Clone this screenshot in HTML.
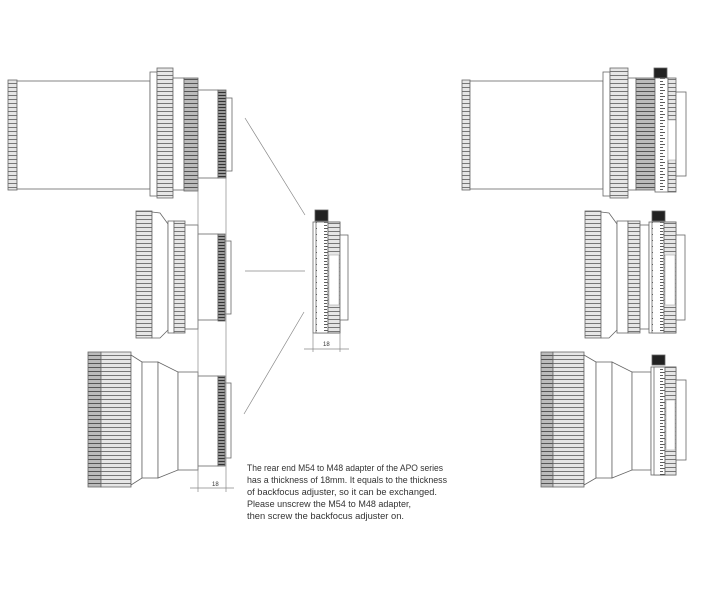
<!DOCTYPE html>
<html><head><meta charset="utf-8"><style>
html,body{margin:0;padding:0;background:#fff;width:720px;height:600px;overflow:hidden}
svg{display:block}
</style></head><body>
<svg width="720" height="600" viewBox="0 0 720 600" xmlns="http://www.w3.org/2000/svg">
<defs>
<pattern id="kn" width="8" height="4" patternUnits="userSpaceOnUse">
<rect width="8" height="4" fill="#e6e6e6"/><rect y="3" width="8" height="1" fill="#777"/>
</pattern>
<pattern id="kd" width="8" height="3" patternUnits="userSpaceOnUse">
<rect width="8" height="3" fill="#999"/><rect y="2" width="8" height="1" fill="#333"/>
</pattern>
<pattern id="km" width="8" height="4" patternUnits="userSpaceOnUse">
<rect width="8" height="4" fill="#bbb"/><rect y="3" width="8" height="1" fill="#555"/>
</pattern>
<pattern id="sc" width="12" height="6" patternUnits="userSpaceOnUse">
<rect width="12" height="6" fill="#fff"/><rect y="0" width="5" height="0.8" fill="#333"/><rect y="3" width="3" height="0.8" fill="#333"/>
</pattern>
</defs>
<g stroke="#666" stroke-width="0.8" fill="#fff">
<!-- TOP LEFT -->
<rect x="8" y="80" width="9" height="110" fill="url(#kn)"/>
<rect x="17" y="81" width="133" height="108"/>
<rect x="150" y="72" width="7" height="124"/>
<rect x="157" y="68" width="16" height="130" fill="url(#kn)"/>
<rect x="173" y="78" width="11" height="112"/>
<rect x="184" y="78" width="14" height="113" fill="url(#km)"/>
<rect x="198" y="90" width="20" height="88"/>
<rect x="218" y="90" width="8" height="88" fill="url(#kd)"/>
<rect x="226" y="98" width="6" height="73"/>
<!-- MIDDLE LEFT -->
<rect x="136" y="211" width="16" height="127" fill="url(#kn)"/>
<path d="M152 212 L160 213 L168 224 L168 330 L160 338 L152 338 Z"/>
<rect x="168" y="221" width="6" height="112"/>
<rect x="174" y="221" width="11" height="112" fill="url(#kn)"/>
<rect x="185" y="225" width="13" height="104"/>
<rect x="198" y="234" width="20" height="86"/>
<rect x="218" y="234" width="7" height="87" fill="url(#kd)"/>
<rect x="225" y="241" width="6" height="73"/>
<!-- BOTTOM LEFT -->
<rect x="88" y="352" width="13" height="135" fill="url(#km)"/>
<rect x="101" y="352" width="30" height="135" fill="url(#kn)"/>
<path d="M131 355 L142 362 L142 478 L131 485 Z"/>
<rect x="142" y="362" width="16" height="116"/>
<path d="M158 362 L178 372 L178 470 L158 478 Z"/>
<rect x="178" y="372" width="20" height="98"/>
<rect x="198" y="376" width="20" height="90"/>
<rect x="218" y="376" width="7" height="90" fill="url(#kd)"/>
<rect x="225" y="383" width="6" height="75"/>
<!-- CENTER ADAPTER -->
<rect x="315" y="210" width="13" height="11" fill="#222"/>
<rect x="313" y="222" width="27" height="111"/>
<rect x="316" y="222" width="12" height="111" fill="url(#sc)"/>
<rect x="328" y="222" width="12" height="111" fill="url(#kn)"/>
<rect x="329" y="255" width="10" height="50" stroke="#bbb"/>
<rect x="340" y="235" width="8" height="85"/>
<!-- RIGHT TOP -->
<rect x="462" y="80" width="8" height="110" fill="url(#kn)"/>
<rect x="470" y="81" width="133" height="108"/>
<rect x="603" y="72" width="7" height="124"/>
<rect x="610" y="68" width="18" height="130" fill="url(#kn)"/>
<rect x="628" y="78" width="8" height="112"/>
<rect x="636" y="78" width="19" height="112" fill="url(#km)"/>
<rect x="654" y="68" width="13" height="10" fill="#222"/>
<rect x="655" y="78" width="13" height="114" fill="url(#sc)"/>
<rect x="668" y="78" width="8" height="114" fill="url(#kn)"/>
<rect x="668" y="120" width="8" height="40" stroke="#bbb"/>
<rect x="676" y="92" width="10" height="84"/>
<!-- RIGHT MIDDLE -->
<rect x="585" y="211" width="16" height="127" fill="url(#kn)"/>
<path d="M601 212 L609 213 L617 224 L617 330 L609 338 L601 338 Z"/>
<rect x="617" y="221" width="11" height="112"/>
<rect x="628" y="221" width="12" height="112" fill="url(#kn)"/>
<rect x="640" y="225" width="9" height="104"/>
<rect x="652" y="211" width="13" height="10" fill="#222"/>
<rect x="649" y="222" width="27" height="111"/>
<rect x="652" y="222" width="12" height="111" fill="url(#sc)"/>
<rect x="664" y="222" width="12" height="111" fill="url(#kn)"/>
<rect x="665" y="255" width="10" height="50" stroke="#bbb"/>
<rect x="676" y="235" width="9" height="85"/>
<!-- RIGHT BOTTOM -->
<rect x="541" y="352" width="12" height="135" fill="url(#km)"/>
<rect x="553" y="352" width="31" height="135" fill="url(#kn)"/>
<path d="M584 355 L596 362 L596 478 L584 485 Z"/>
<rect x="596" y="362" width="16" height="116"/>
<path d="M612 362 L632 372 L632 470 L612 478 Z"/>
<rect x="632" y="372" width="19" height="98"/>
<rect x="652" y="355" width="13" height="10" fill="#222"/>
<rect x="651" y="367" width="25" height="108"/>
<rect x="654" y="367" width="11" height="108" fill="url(#sc)"/>
<rect x="665" y="367" width="11" height="108" fill="url(#kn)"/>
<rect x="666" y="400" width="9" height="50" stroke="#bbb"/>
<rect x="676" y="380" width="10" height="80"/>
</g>
<g stroke="#888" stroke-width="0.7" fill="none">
<line x1="198" y1="178" x2="198" y2="492"/>
<line x1="226" y1="178" x2="226" y2="492"/>
<line x1="190" y1="488" x2="234" y2="488"/>
<line x1="245" y1="118" x2="305" y2="215"/>
<line x1="245" y1="271" x2="305" y2="271"/>
<line x1="244" y1="414" x2="304" y2="312"/>
<line x1="313" y1="333" x2="313" y2="352"/>
<line x1="340" y1="333" x2="340" y2="352"/>
<line x1="304" y1="349" x2="349" y2="349"/>
</g>
<g font-family="Liberation Sans, sans-serif" fill="#333">
<text x="212" y="486" font-size="6">18</text>
<text x="323" y="346" font-size="6">18</text>
<g font-size="9">
<text x="247" y="471" textLength="196" lengthAdjust="spacingAndGlyphs">The rear end M54 to M48 adapter of the APO series</text>
<text x="247" y="483" textLength="200" lengthAdjust="spacingAndGlyphs">has a thickness of 18mm. It equals to the thickness</text>
<text x="247" y="495" textLength="190" lengthAdjust="spacingAndGlyphs">of backfocus adjuster, so it can be exchanged.</text>
<text x="247" y="507" textLength="164" lengthAdjust="spacingAndGlyphs">Please unscrew the M54 to M48 adapter,</text>
<text x="247" y="519" textLength="157" lengthAdjust="spacingAndGlyphs">then screw the backfocus adjuster on.</text>
</g>
</g>
</svg>
</body></html>
